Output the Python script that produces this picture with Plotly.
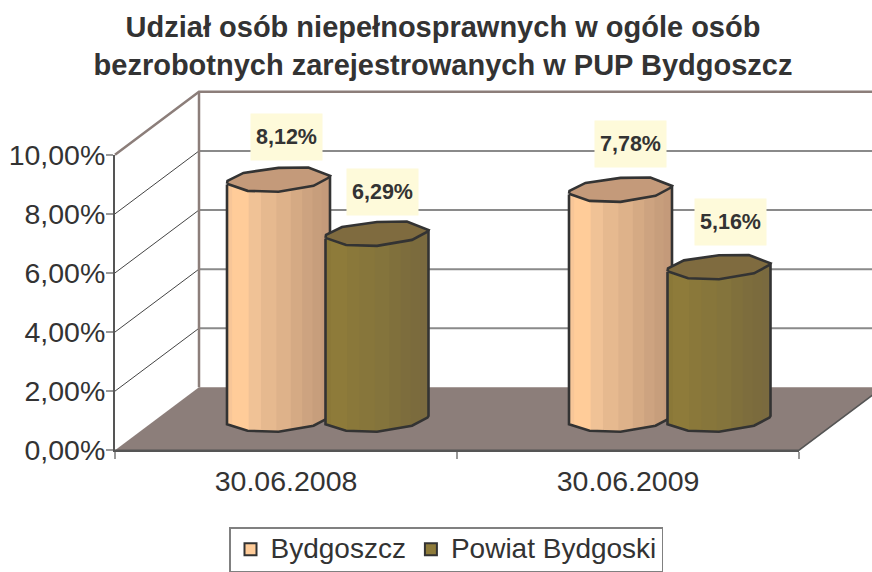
import numpy as np
import plotly.graph_objects as go

categories = ["30.06.2008", "30.06.2009"]
series_names = ["Bydgoszcz", "Powiat Bydgoski"]
bydgoszcz = [8.12, 7.78]
powiat = [6.29, 5.16]
value_labels_a = ["8,12%", "7,78%"]
value_labels_b = ["6,29%", "5,16%"]
y_ticks = [0, 2, 4, 6, 8, 10]
y_ticktext = ["0,00%", "2,00%", "4,00%", "6,00%", "8,00%", "10,00%"]

W, H = 872, 572
L, R, T, B = 115, 799, 155, 451
PX_X = (R - L) / 2
PX_Y = (B - T) / 10
DX, DY = 84 / PX_X, 63 / PX_Y
RX, RY = 51.5 / PX_X, 12 / PX_Y
BASE_Y = DY / 2 - 1 / PX_Y
SERIES_OFFSET = [-49.5 / PX_X, 49 / PX_X]
LABEL_XSHIFT = [[8, 10], [5, 11]]
LABEL_YSHIFT = [[43, 46], [42, 45]]

TOP_POLY = [(-1, .33), (-.99, .08), (-.68, -.58), (0, -1), (.58, -1.03), (1, -.33),
            (.97, -.17), (.68, .5), (0, 1), (-.6, .92), (-1, .33)]
FRONT = [(-1, .38), (-.6, .92), (0, 1), (.68, .5), (.98, -.18), (1, -.33)]
BANDS = [0, .05, .21, .33, .48, .62, .73, .83, .92]
SHADES = [
    ["#F7C698", "#FFCC99", "#F0C296", "#E6B98F", "#DEB28A", "#D5AA84", "#CDA380", "#C79E7C", "#C49A7A"],
    ["#8A7838", "#8E7B3A", "#8A783A", "#87763B", "#84743C", "#80703C", "#7D6D3D", "#7B6B3D", "#7A6A3F"],
]
CAPS = ["#C49A7A", "#7F6B3F"]
SWATCH = ["#FFCC99", "#8E7B3A"]
INK = "#333333"
FLOOR = "#8C7E7A"

fig = go.Figure()


def add(xs, ys, **kw):
    kw.setdefault("hoverinfo", "skip")
    kw.setdefault("showlegend", False)
    fig.add_trace(go.Scatter(x=xs, y=ys, xaxis="x2", yaxis="y2", **kw))


def line(xs, ys, color, width):
    add(xs, ys, mode="lines", line=dict(color=color, width=width))


def polygon(xs, ys, color):
    add(xs, ys, mode="lines", fill="toself", fillcolor=color, line=dict(width=0, color=color))


# back wall and side wall
for v in y_ticks[1:-1]:
    line([DX, 2 + DX], [v + DY, v + DY], "#8A8A8A", 2)
    line([0, DX], [v, v + DY], "#444444", 1)
line([DX, DX], [DY, 10 + DY], FLOOR, 2.5)
line([0, DX, 2 + DX], [10, 10 + DY, 10 + DY], FLOOR, 2.5)
# floor
polygon([0, 2, 2 + DX, DX, 0], [0, 0, DY, DY, 0], FLOOR)
line([0, 2, 2 + DX], [0, 0, DY], "#555555", 1.5)

# cylinders
fx = np.array([p[0] for p in FRONT])
fy = np.array([p[1] for p in FRONT])
for c in range(len(categories)):
    for s, values in enumerate([bydgoszcz, powiat]):
        v = values[c]
        cx = c + .5 + SERIES_OFFSET[s] + DX / 2
        cy = BASE_Y
        for b, col in zip(BANDS, SHADES[s]):
            u = 2 * b - 1
            keep = fx > u
            us = np.concatenate([[u], fx[keep]])
            vs = np.concatenate([[np.interp(u, fx, fy)], fy[keep]])
            xs = cx + us * RX
            top = cy + v - vs * RY
            bot = cy - vs * RY
            polygon(list(xs) + list(xs[::-1]) + [xs[0]],
                    list(top) + list(bot[::-1]) + [top[0]], col)
        ox = [cx + p[0] * RX for p in FRONT]
        oy = [cy - p[1] * RY for p in FRONT]
        line([ox[0]] + ox + [ox[-1]],
             [cy + v - FRONT[0][1] * RY] + oy + [cy + v - FRONT[-1][1] * RY], INK, 2.6)
        polygon([cx + p[0] * RX for p in TOP_POLY], [cy + v - p[1] * RY for p in TOP_POLY], CAPS[s])
        line([cx + p[0] * RX for p in TOP_POLY], [cy + v - p[1] * RY for p in TOP_POLY], INK, 2.6)

# legend entries
for name, col in zip(series_names, SWATCH):
    fig.add_trace(go.Scatter(x=[None], y=[None], xaxis="x", yaxis="y",
                             name=f'<span style="font-size:28px">{name}</span>', mode="markers",
                             marker=dict(symbol="square", size=15, color=col, line=dict(color=INK, width=2))))

annotations = []
for s, (values, texts) in enumerate([(bydgoszcz, value_labels_a), (powiat, value_labels_b)]):
    for c, (v, t) in enumerate(zip(values, texts)):
        annotations.append(dict(
            x=c + .5 + SERIES_OFFSET[s] + DX / 2, y=v + BASE_Y, xref="x2", yref="y2", text=f"<b>{t}</b>",
            showarrow=False, xshift=LABEL_XSHIFT[s][c], yshift=LABEL_YSHIFT[s][c], width=69, height=44,
            bgcolor="#FEFADA", font=dict(family="Liberation Sans", size=21.5, color=INK)))

fig.update_layout(
    width=W, height=H, autosize=False, margin=dict(l=0, r=0, t=0, b=0),
    paper_bgcolor="white", plot_bgcolor="rgba(0,0,0,0)",
    font=dict(family="Liberation Sans", color=INK),
    title=dict(text="<b>Udział osób niepełnosprawnych w ogóle osób<br>bezrobotnych zarejestrowanych w PUP Bydgoszcz</b>",
               x=443 / W, xanchor="center", y=1 - 37 / H, yanchor="middle", yref="container", automargin=False,
               font=dict(family="Liberation Sans", size=29, color=INK)),
    xaxis=dict(domain=[L / W, R / W], range=[0, 2], fixedrange=True, automargin=False, tickmode="array",
               tickvals=[.5, 1.5], ticktext=categories, ticks="outside", ticklen=5, tickcolor="rgba(0,0,0,0)",
               tickfont=dict(size=28.5, color=INK), showgrid=False, zeroline=False,
               showline=True, linecolor="#555555", linewidth=1.5,
               minor=dict(tickvals=[0, 1, 2], ticks="outside", ticklen=7, tickcolor="#999999", tickwidth=2, showgrid=False)),
    yaxis=dict(domain=[1 - B / H, 1 - T / H], range=[0, 10], fixedrange=True, automargin=False, tickmode="array",
               tickvals=y_ticks, ticktext=y_ticktext, ticks="outside", ticklen=7, tickcolor="#999999", tickwidth=2,
               ticklabelstandoff=-5,
               tickfont=dict(size=28.5, color=INK), showgrid=False, zeroline=False,
               showline=True, linecolor="#555555", linewidth=2),
    xaxis2=dict(domain=[0, 1], range=[-L / PX_X, (W - L) / PX_X], anchor="y2", visible=False, fixedrange=True, automargin=False),
    yaxis2=dict(domain=[0, 1], range=[(B - H) / PX_Y, B / PX_Y], anchor="x2", visible=False, fixedrange=True, automargin=False),
    showlegend=True,
    legend=dict(orientation="h", x=229 / W, xanchor="left", y=1 - 528 / H, yanchor="top",
                bgcolor="white", bordercolor="#808080", borderwidth=1.5,
                font=dict(size=22, color=INK), itemsizing="constant", itemwidth=30, traceorder="normal"),
    annotations=annotations,
)
fig.write_html("out.html", config=dict(displayModeBar=False), post_script="document.body.style.margin='0';")
